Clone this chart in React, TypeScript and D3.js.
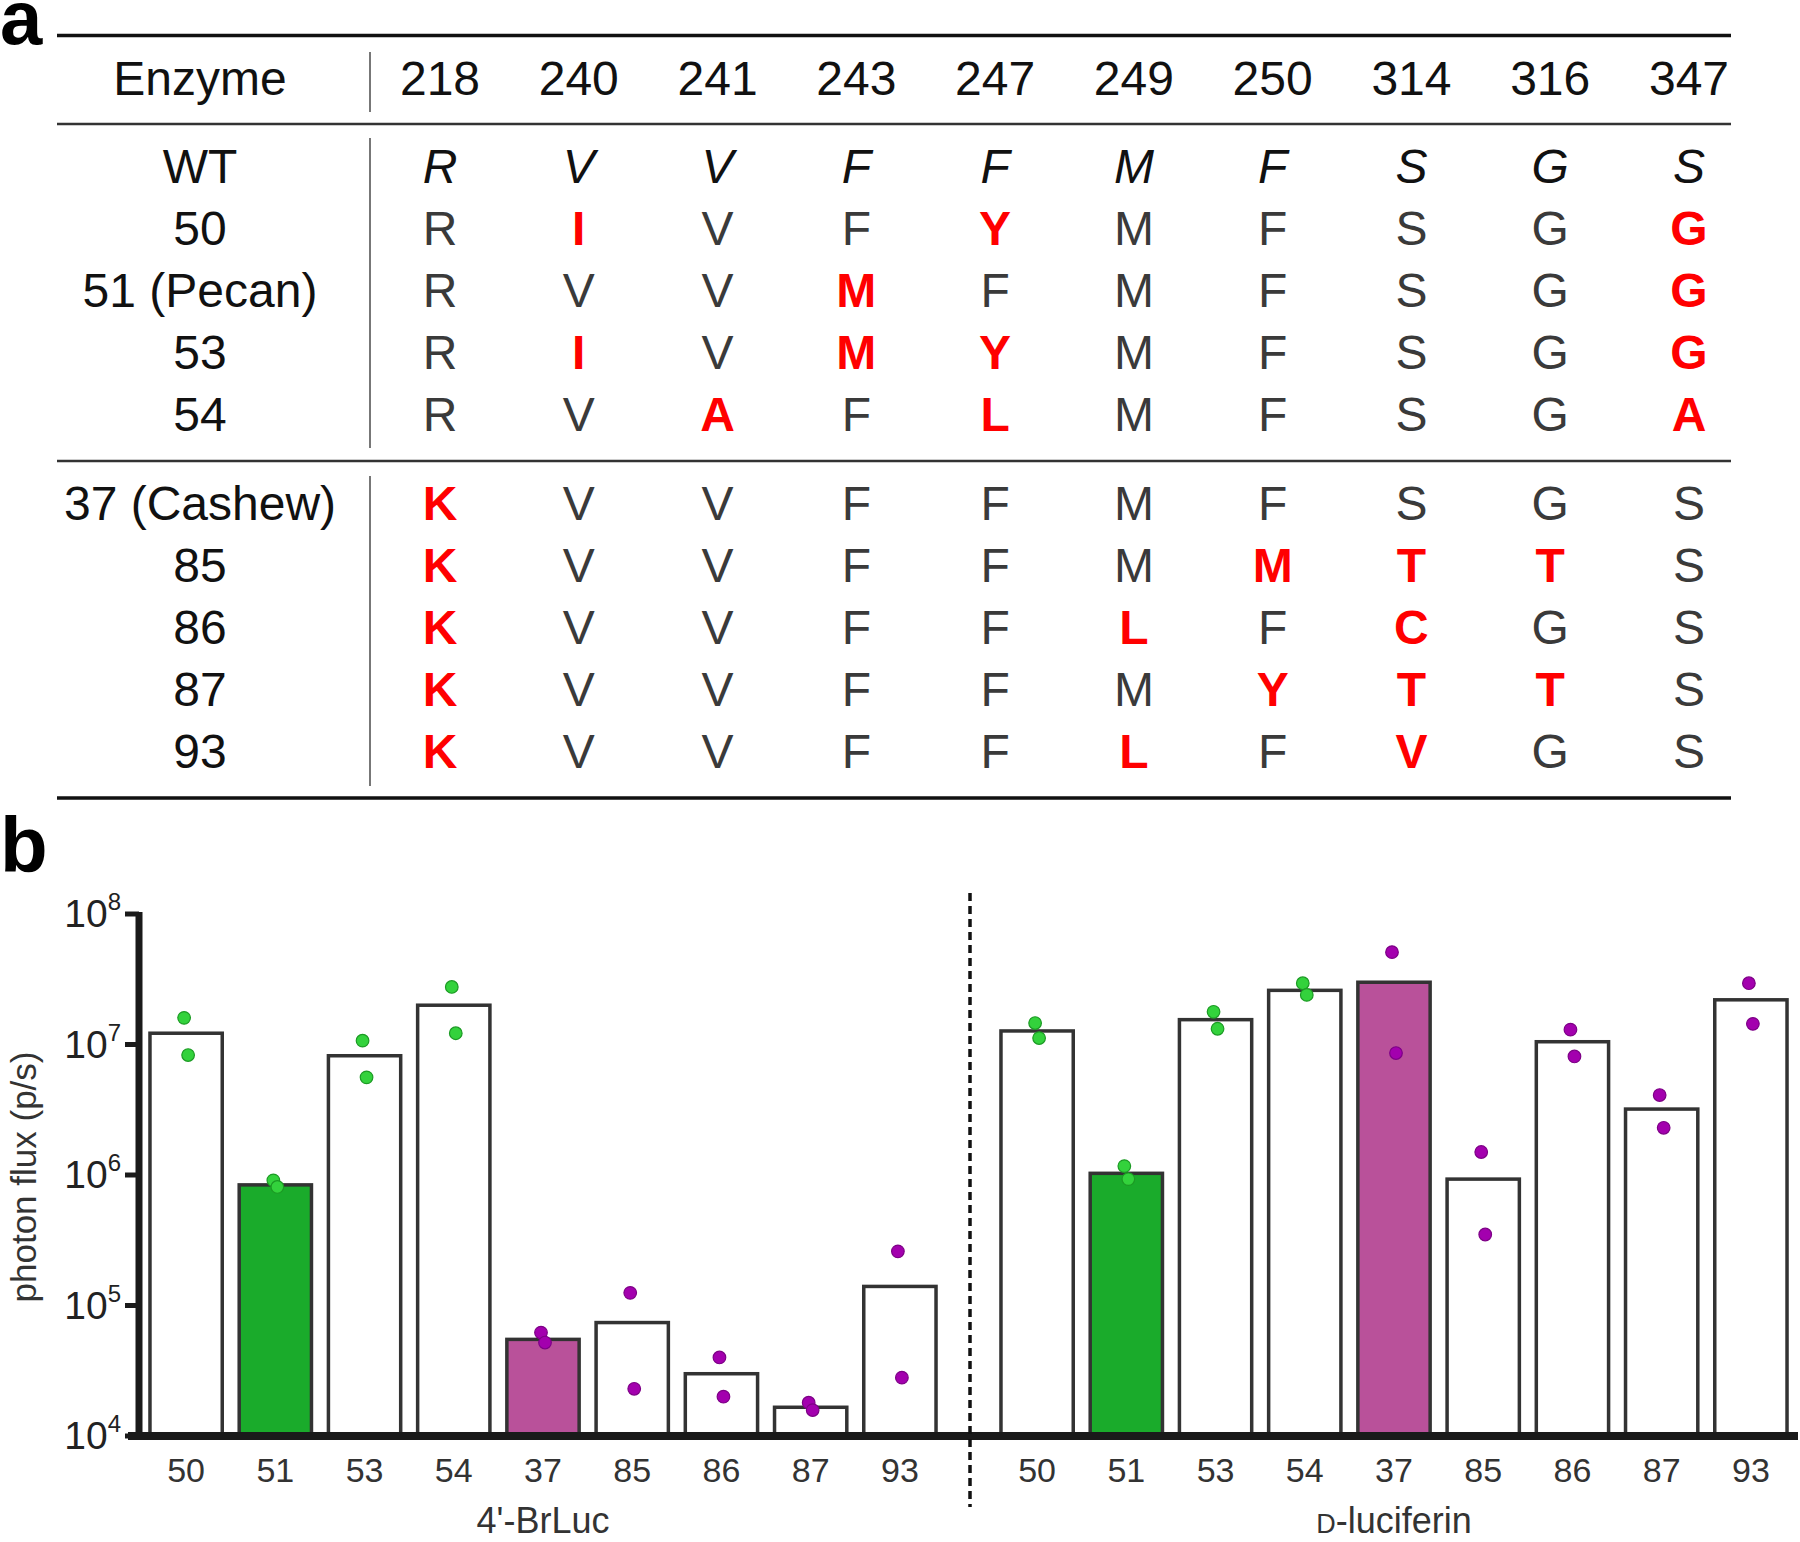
import React from "react";
import * as d3 from "d3";

// ---------- Panel a: table data ----------
const positions = ["218", "240", "241", "243", "247", "249", "250", "314", "316", "347"];
const wtRow = ["R", "V", "V", "F", "F", "M", "F", "S", "G", "S"];
const groupA = [
  { name: "50", seq: ["R", "I", "V", "F", "Y", "M", "F", "S", "G", "G"] },
  { name: "51 (Pecan)", seq: ["R", "V", "V", "M", "F", "M", "F", "S", "G", "G"] },
  { name: "53", seq: ["R", "I", "V", "M", "Y", "M", "F", "S", "G", "G"] },
  { name: "54", seq: ["R", "V", "A", "F", "L", "M", "F", "S", "G", "A"] },
];
const groupB = [
  { name: "37 (Cashew)", seq: ["K", "V", "V", "F", "F", "M", "F", "S", "G", "S"] },
  { name: "85", seq: ["K", "V", "V", "F", "F", "M", "M", "T", "T", "S"] },
  { name: "86", seq: ["K", "V", "V", "F", "F", "L", "F", "C", "G", "S"] },
  { name: "87", seq: ["K", "V", "V", "F", "F", "M", "Y", "T", "T", "S"] },
  { name: "93", seq: ["K", "V", "V", "F", "F", "L", "F", "V", "G", "S"] },
];

// ---------- Panel b: photon flux data ----------
const enzymes = ["50", "51", "53", "54", "37", "85", "86", "87", "93"];
const greenSet = ["50", "51", "53", "54"];
const brLucMean = [1.22e7, 8.4e5, 8.2e6, 2.0e7, 5.5e4, 7.4e4, 3.0e4, 1.66e4, 1.4e5];
const brLucReps = [
  [1.6e7, 8.3e6], [9.1e5, 8.1e5], [1.07e7, 5.6e6], [2.76e7, 1.22e7],
  [6.2e4, 5.2e4], [1.25e5, 2.3e4], [4.0e4, 2.0e4], [1.8e4, 1.58e4], [2.6e5, 2.8e4],
];
const dLucMean = [1.27e7, 1.03e6, 1.55e7, 2.6e7, 3.0e7, 9.3e5, 1.05e7, 3.2e6, 2.2e7];
const dLucReps = [
  [1.46e7, 1.12e7], [1.17e6, 9.3e5], [1.78e7, 1.32e7], [2.95e7, 2.4e7],
  [5.1e7, 8.6e6], [1.5e6, 3.5e5], [1.3e7, 8.1e6], [4.1e6, 2.3e6], [2.95e7, 1.44e7],
];
const yTicks = [1e4, 1e5, 1e6, 1e7, 1e8];
const groupLabels = ["4'-BrLuc", "D-luciferin"];

const FONT = "'Liberation Sans', Arial, Helvetica, sans-serif";
const RED = "#ff0000";
const GREY_TXT = "#3a3a3a";
const GREEN_BAR = "#1aab2b";
const PURPLE_BAR = "#b9519a";
const GREEN_DOT = "#33d23c";
const GREEN_DOT_STROKE = "#1c9a24";
const PURPLE_DOT = "#a300ae";
const PURPLE_DOT_STROKE = "#7d0086";

export default function App() {
  const W = 1800;
  const H = 1542;

  // table scales
  const colX = d3.scaleBand<string>().domain(positions).range([370.6, 1758.4]);
  const labelX = 200;
  const rowStep = 62;
  const rowsA = [{ name: "WT", seq: wtRow, wt: true }, ...groupA.map((r) => ({ ...r, wt: false }))];
  const rowsB = groupB.map((r) => ({ ...r, wt: false }));
  const rowYA = d3.scaleLinear().domain([0, 1]).range([166, 166 + rowStep]);
  const rowYB = d3.scaleLinear().domain([0, 1]).range([503, 503 + rowStep]);
  const tableFs = 48;

  // chart scales
  const y = d3.scaleLog().domain([1e4, 1e8]).range([1436, 914]);
  const xLeft = d3.scaleBand<string>().domain(enzymes).range([141.5, 944.5]).paddingInner(0.19).paddingOuter(0.095);
  const xRight = d3.scaleBand<string>().domain(enzymes).range([992.5, 1795.5]).paddingInner(0.19).paddingOuter(0.095);
  const axisX = 139;

  const renderRow = (r: any, i: number, yScale: any) => {
    const cy = yScale(i);
    const base = cy + tableFs * 0.36;
    return (
      <g key={r.name}>
        <text x={labelX} y={base} textAnchor="middle" fontSize={tableFs} fill="#111" fontFamily={FONT}>
          {r.name}
        </text>
        {r.seq.map((aa: string, j: number) => {
          const mutated = !r.wt && aa !== wtRow[j];
          return (
            <text
              key={j}
              x={(colX(positions[j]) as number) + colX.bandwidth() / 2}
              y={base}
              textAnchor="middle"
              fontSize={tableFs}
              fontFamily={FONT}
              fontStyle={r.wt ? "italic" : "normal"}
              fontWeight={mutated ? "bold" : "normal"}
              fill={r.wt ? "#111" : mutated ? RED : GREY_TXT}
            >
              {aa}
            </text>
          );
        })}
      </g>
    );
  };

  const renderGroup = (xs: any, means: number[], reps: number[][], key: string) => (
    <g key={key}>
      {enzymes.map((e, i) => {
        const x0 = xs(e) as number;
        const bw = xs.bandwidth();
        const fill = e === "51" ? GREEN_BAR : e === "37" ? PURPLE_BAR : "#ffffff";
        return (
          <rect
            key={"b" + e}
            x={x0}
            y={y(means[i])}
            width={bw}
            height={y(1e4) - y(means[i])}
            fill={fill}
            stroke="#333"
            strokeWidth={3.5}
          />
        );
      })}
      {enzymes.map((e, i) => {
        const cx = (xs(e) as number) + xs.bandwidth() / 2;
        const isGreen = greenSet.includes(e);
        return reps[i].map((v, k) => (
          <circle
            key={"d" + e + k}
            cx={cx + (k === 0 ? -2 : 2)}
            cy={y(v)}
            r={6.3}
            fill={isGreen ? GREEN_DOT : PURPLE_DOT}
            stroke={isGreen ? GREEN_DOT_STROKE : PURPLE_DOT_STROKE}
            strokeWidth={1.2}
          />
        ));
      })}
      {enzymes.map((e) => (
        <text
          key={"t" + e}
          x={(xs(e) as number) + xs.bandwidth() / 2}
          y={1482}
          textAnchor="middle"
          fontSize={34}
          fill="#333"
          fontFamily={FONT}
        >
          {e}
        </text>
      ))}
    </g>
  );

  const leftMid = ((xLeft(enzymes[0]) as number) + (xLeft(enzymes[8]) as number) + xLeft.bandwidth()) / 2;
  const rightMid = ((xRight(enzymes[0]) as number) + (xRight(enzymes[8]) as number) + xRight.bandwidth()) / 2;

  return (
    <svg
      width={W}
      height={H}
      viewBox={`0 0 ${W} ${H}`}
      style={{ position: "absolute", left: 0, top: 0, display: "block", background: "#fff" }}
    >
      <rect x={0} y={0} width={W} height={H} fill="#fff" />
      {/* ---------- Panel a ---------- */}
      <text x={0} y={44} fontSize={76} fontWeight="bold" fontFamily={FONT} fill="#000">a</text>
      <line x1={57} x2={1731} y1={35.5} y2={35.5} stroke="#111" strokeWidth={3.5} />
      <text x={labelX} y={78 + tableFs * 0.36} textAnchor="middle" fontSize={tableFs} fill="#111" fontFamily={FONT}>
        Enzyme
      </text>
      {positions.map((p) => (
        <text
          key={p}
          x={(colX(p) as number) + colX.bandwidth() / 2}
          y={78 + tableFs * 0.36}
          textAnchor="middle"
          fontSize={tableFs}
          fill="#111"
          fontFamily={FONT}
        >
          {p}
        </text>
      ))}
      <line x1={370} x2={370} y1={52} y2={112} stroke="#777" strokeWidth={2} />
      <line x1={57} x2={1731} y1={124} y2={124} stroke="#333" strokeWidth={2.5} />
      {rowsA.map((r, i) => renderRow(r, i, rowYA))}
      <line x1={370} x2={370} y1={138} y2={448} stroke="#777" strokeWidth={2} />
      <line x1={57} x2={1731} y1={461} y2={461} stroke="#333" strokeWidth={2.5} />
      {rowsB.map((r, i) => renderRow(r, i, rowYB))}
      <line x1={370} x2={370} y1={476} y2={786} stroke="#777" strokeWidth={2} />
      <line x1={57} x2={1731} y1={798} y2={798} stroke="#111" strokeWidth={3.5} />

      {/* ---------- Panel b ---------- */}
      <text x={0} y={872} fontSize={78} fontWeight="bold" fontFamily={FONT} fill="#000">b</text>

      {renderGroup(xLeft, brLucMean, brLucReps, "left")}
      {renderGroup(xRight, dLucMean, dLucReps, "right")}

      {/* y axis */}
      <line x1={axisX} x2={axisX} y1={y(1e8) - 2} y2={y(1e4)} stroke="#1a1a1a" strokeWidth={7} />
      {yTicks.map((t) => (
        <g key={t}>
          <line x1={125} x2={axisX} y1={y(t)} y2={y(t)} stroke="#1a1a1a" strokeWidth={5} />
          <text x={121} y={y(t) + 13} textAnchor="end" fontFamily={FONT} fill="#222">
            <tspan fontSize={39}>10</tspan>
            <tspan fontSize={24} dy={-17}>{Math.round(Math.log10(t))}</tspan>
          </text>
        </g>
      ))}
      {/* x axis */}
      <line x1={128} x2={1798} y1={y(1e4)} y2={y(1e4)} stroke="#1a1a1a" strokeWidth={8} />

      {/* divider */}
      <line x1={970} x2={970} y1={893} y2={1507} stroke="#111" strokeWidth={3.5} strokeDasharray="8,5" />

      {/* y label */}
      <text
        transform={`translate(36, ${(y(1e4) + y(1e8)) / 2 + 2}) rotate(-90)`}
        textAnchor="middle"
        fontSize={35}
        fill="#333"
        fontFamily={FONT}
      >
        photon flux (p/s)
      </text>

      {/* group labels */}
      <text x={leftMid} y={1533} textAnchor="middle" fontSize={36} fill="#333" fontFamily={FONT}>
        {groupLabels[0]}
      </text>
      <text x={rightMid} y={1533} textAnchor="middle" fontSize={36} fill="#333" fontFamily={FONT}>
        <tspan fontSize={27}>D</tspan>
        <tspan>-luciferin</tspan>
      </text>
    </svg>
  );
}
